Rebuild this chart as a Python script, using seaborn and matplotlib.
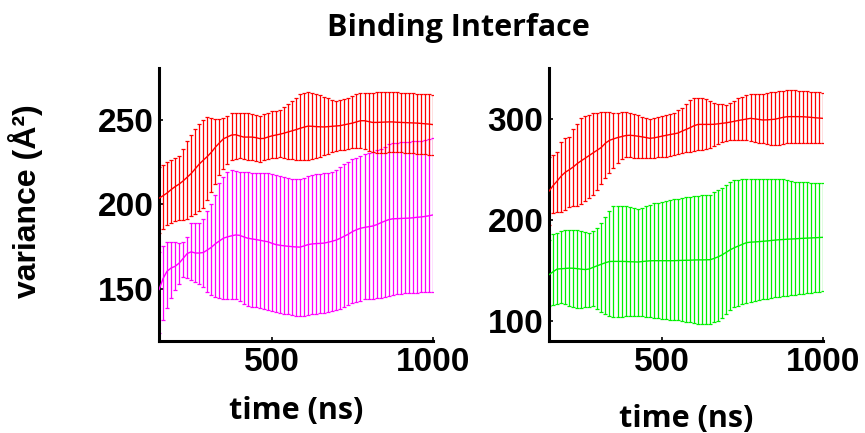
import numpy as np
import pandas as pd
import matplotlib
matplotlib.use("Agg")
import matplotlib.pyplot as plt
import seaborn as sns

# simulation time grid (ns), one sample every 12.5 ns
time_ns = np.arange(150.0, 1000.01, 12.5)

# ---- left panel: red vs magenta (mean, lower, upper) ----
left_red_mean = [203.7, 205.2, 206.8, 208.8, 210.6, 212.1, 214.0, 216.2, 218.4, 221.2,
                 224.0, 226.3, 228.5, 231.0, 234.0, 236.6, 239.0, 240.1, 241.2, 241.4,
                 240.7, 240.0, 240.0, 240.0, 239.7, 239.1, 239.2, 240.0, 240.7, 241.2,
                 241.7, 242.3, 243.0, 243.7, 244.4, 245.2, 245.9, 246.5, 246.4, 246.2,
                 246.1, 246.0, 246.2, 246.4, 246.6, 246.8, 247.3, 247.8, 248.3, 249.0,
                 249.7, 249.7, 249.2, 248.7, 248.7, 248.8, 248.9, 249.0, 249.0, 248.8,
                 248.7, 248.6, 248.5, 248.4, 248.3, 248.1, 247.9, 247.7, 247.4]
left_red_upper = [222.0, 223.7, 225.4, 226.6, 227.8, 229.0, 232.8, 237.6, 241.5, 244.8,
                  247.6, 250.0, 252.0, 251.3, 250.8, 250.5, 251.1, 252.8, 254.0, 254.2,
                  254.3, 254.2, 254.1, 253.7, 253.1, 252.4, 253.4, 254.4, 255.2, 255.7,
                  256.3, 257.8, 259.4, 261.2, 263.4, 265.7, 266.2, 266.6, 266.4, 265.6,
                  264.8, 264.0, 263.1, 262.2, 261.3, 261.8, 262.6, 263.4, 264.3, 265.4,
                  266.4, 266.4, 266.4, 266.4, 266.5, 266.6, 266.7, 266.8, 266.7, 266.6,
                  266.4, 266.3, 266.1, 265.9, 265.7, 265.5, 265.4, 265.3, 265.2]
left_red_lower = [183.0, 185.5, 188.0, 189.1, 190.2, 190.8, 191.0, 191.2, 193.4, 194.5,
                  196.1, 198.0, 202.5, 207.3, 212.0, 217.5, 220.9, 224.0, 226.5, 227.0,
                  227.3, 226.9, 226.4, 226.1, 225.7, 225.3, 226.1, 226.9, 227.4, 227.6,
                  227.9, 227.5, 227.1, 226.8, 226.6, 226.4, 226.3, 226.6, 226.9, 227.3,
                  228.2, 229.1, 230.0, 230.9, 231.6, 232.3, 232.6, 233.0, 233.4, 233.8,
                  233.4, 232.8, 232.0, 231.4, 230.8, 230.4, 230.6, 230.9, 231.1, 231.3,
                  231.1, 230.8, 230.6, 230.3, 230.1, 229.9, 229.7, 229.5, 229.3]

left_mag_mean = [149.4, 156.0, 160.4, 162.3, 163.3, 165.2, 168.0, 170.9, 171.9, 171.2,
                 171.2, 171.5, 173.0, 174.6, 176.7, 178.4, 180.0, 180.8, 181.4, 181.9,
                 181.7, 180.8, 180.0, 179.6, 179.2, 178.8, 178.3, 177.9, 177.0, 176.2,
                 175.8, 175.5, 175.2, 175.0, 174.8, 174.7, 175.4, 176.2, 176.6, 176.8,
                 176.9, 177.1, 177.6, 178.2, 178.9, 180.0, 181.2, 182.4, 183.9, 185.0,
                 185.9, 186.4, 186.8, 187.2, 188.0, 189.1, 190.1, 191.0, 191.5, 191.6,
                 191.7, 191.8, 191.9, 192.1, 192.4, 192.6, 192.9, 193.3, 193.8]
left_mag_upper = [172.0, 175.5, 178.0, 178.0, 178.0, 177.3, 177.5, 180.5, 188.9, 189.0,
                  189.2, 191.5, 196.3, 200.5, 205.5, 212.5, 216.5, 219.5, 220.4, 220.0,
                  219.4, 219.2, 219.0, 218.8, 218.8, 218.8, 218.7, 218.4, 218.0, 217.6,
                  217.1, 216.3, 215.5, 214.9, 214.9, 214.9, 215.8, 216.9, 217.6, 217.9,
                  218.2, 218.4, 218.9, 219.5, 220.6, 222.1, 223.8, 225.5, 226.7, 227.7,
                  228.7, 229.8, 230.6, 231.4, 232.2, 233.2, 234.3, 235.6, 236.4, 236.6,
                  236.8, 237.0, 237.2, 237.4, 237.7, 237.9, 238.2, 238.9, 239.7]
left_mag_lower = [123.8, 131.3, 138.5, 144.5, 149.5, 153.0, 156.8, 156.5, 155.0, 153.8,
                  152.8, 150.8, 148.3, 146.0, 145.2, 144.5, 143.9, 143.9, 143.9, 143.9,
                  142.8, 141.2, 139.8, 139.4, 138.9, 138.4, 137.9, 137.3, 136.7, 136.2,
                  135.8, 135.3, 134.9, 134.4, 134.0, 133.6, 133.8, 134.3, 134.8, 135.3,
                  135.6, 135.9, 136.3, 136.6, 137.3, 138.2, 139.2, 140.3, 141.3, 142.0,
                  142.9, 143.7, 144.0, 144.2, 144.3, 144.6, 145.2, 145.8, 146.4, 146.7,
                  147.0, 147.2, 147.5, 147.6, 147.7, 147.8, 147.9, 148.0, 148.1]

# ---- right panel: red vs green (mean, lower, upper) ----
right_red_mean = [228.7, 234.2, 238.7, 243.6, 247.4, 249.9, 252.7, 256.1, 258.9, 261.5,
                  264.2, 266.9, 269.5, 272.2, 276.4, 279.2, 280.6, 281.9, 282.9, 283.9,
                  284.2, 283.9, 283.3, 282.7, 282.0, 281.2, 281.6, 282.4, 283.3, 284.1,
                  284.9, 285.6, 286.4, 288.3, 290.0, 291.7, 293.7, 295.0, 295.0, 295.0,
                  295.0, 295.1, 295.6, 296.1, 296.6, 297.3, 298.1, 298.9, 299.6, 300.3,
                  301.0, 300.5, 300.0, 299.4, 299.5, 299.8, 300.1, 301.0, 301.9, 302.6,
                  302.7, 302.7, 302.7, 302.6, 302.3, 302.0, 301.6, 301.3, 301.0]
right_red_upper = [262.5, 264.7, 267.5, 278.0, 281.0, 282.5, 290.0, 295.5, 300.9, 303.2,
                   304.7, 305.9, 306.7, 307.3, 307.2, 307.0, 306.6, 306.8, 307.0, 307.2,
                   306.6, 305.4, 304.0, 302.8, 301.6, 300.7, 301.6, 302.5, 303.4, 304.5,
                   305.6, 306.8, 309.0, 311.2, 314.9, 319.4, 321.6, 321.6, 321.6, 320.1,
                   318.5, 316.5, 315.7, 314.9, 314.0, 316.0, 318.5, 321.0, 322.5, 323.8,
                   325.0, 325.5, 325.5, 325.6, 326.3, 327.0, 327.3, 327.9, 328.5, 329.1,
                   329.0, 328.7, 328.4, 328.2, 327.9, 327.6, 327.2, 326.9, 326.5]
right_red_lower = [195.5, 207.0, 207.6, 208.4, 210.5, 212.8, 213.8, 213.8, 215.5, 218.5,
                   221.5, 224.5, 229.5, 235.5, 241.5, 247.0, 251.9, 256.2, 260.5, 262.4,
                   262.2, 262.0, 261.9, 261.9, 261.9, 261.9, 261.9, 262.2, 262.5, 262.8,
                   263.5, 264.7, 265.9, 266.8, 267.3, 267.9, 268.4, 269.1, 270.0, 271.0,
                   271.9, 273.9, 276.0, 277.9, 278.6, 279.1, 279.6, 280.0, 279.8, 279.3,
                   278.6, 277.9, 277.0, 276.2, 275.3, 274.5, 274.2, 275.0, 275.8, 276.6,
                   276.8, 276.8, 276.8, 276.8, 276.8, 276.8, 276.7, 276.4, 276.1]

right_green_mean = [145.8, 148.7, 151.4, 151.7, 152.0, 152.3, 152.2, 151.8, 151.3, 150.9,
                    151.5, 153.2, 154.7, 156.2, 157.7, 158.9, 159.0, 159.0, 159.0, 158.9,
                    158.7, 158.6, 158.4, 158.8, 159.2, 159.6, 159.7, 159.7, 159.7, 159.7,
                    159.7, 159.7, 159.9, 160.0, 160.1, 160.2, 160.4, 160.5, 160.5, 160.6,
                    160.7, 162.0, 163.6, 165.6, 168.1, 170.6, 172.6, 174.3, 176.0, 177.6,
                    178.1, 178.3, 178.6, 178.9, 179.3, 179.7, 180.1, 180.5, 180.7, 181.0,
                    181.2, 181.4, 181.7, 181.9, 182.1, 182.3, 182.5, 182.7, 182.9]
right_green_upper = [180.6, 186.0, 187.5, 189.0, 189.7, 190.2, 190.5, 189.9, 189.0, 188.2,
                     187.4, 189.0, 192.5, 197.0, 203.5, 209.5, 213.8, 213.8, 213.8, 213.8,
                     213.0, 212.2, 211.3, 212.0, 213.6, 215.2, 216.6, 217.4, 218.2, 219.0,
                     219.8, 220.6, 221.3, 221.9, 222.6, 223.2, 223.7, 224.1, 224.5, 224.9,
                     225.4, 227.4, 229.4, 232.1, 235.0, 237.8, 239.6, 240.0, 240.4, 240.9,
                     241.0, 241.0, 241.0, 241.0, 241.0, 241.0, 241.0, 241.0, 240.5, 239.7,
                     238.9, 238.1, 237.6, 237.5, 237.4, 237.3, 237.2, 237.1, 237.0]
right_green_lower = [114.3, 115.5, 116.7, 117.6, 116.4, 115.2, 114.0, 112.8, 112.9, 113.5,
                     114.0, 114.3, 111.5, 108.7, 106.5, 105.2, 104.3, 103.6, 103.9, 104.4,
                     104.8, 105.2, 105.2, 104.8, 104.2, 103.5, 102.9, 102.7, 102.2, 101.7,
                     101.3, 100.9, 100.5, 100.0, 99.2, 98.4, 97.6, 96.8, 96.7, 96.8,
                     97.0, 98.6, 100.2, 103.0, 107.0, 110.5, 113.6, 115.2, 116.8, 118.2,
                     119.1, 119.8, 120.5, 121.3, 122.0, 122.6, 123.3, 123.9, 124.4, 125.0,
                     125.5, 126.1, 126.5, 126.8, 127.5, 128.0, 128.4, 128.8, 129.2]

left_yticks = [150, 200, 250]
right_yticks = [100, 200, 300]
xticks = [500, 1000]

sns.set_theme(style="white")
plt.rcParams["font.family"] = ["Liberation Sans", "DejaVu Sans"]
plt.rcParams["text.color"] = "black"
plt.rcParams["axes.labelcolor"] = "black"
plt.rcParams["xtick.color"] = "black"
plt.rcParams["ytick.color"] = "black"

fig = plt.figure(figsize=(8.65, 4.33), dpi=100)
ax_l = fig.add_axes([0.1838, 0.2125, 0.3168, 0.6305])
ax_r = fig.add_axes([0.6347, 0.2125, 0.3168, 0.6305])


def draw_band(ax, mean, lower, upper, color):
    mean = np.asarray(mean)
    lo = mean - np.asarray(lower)
    hi = np.asarray(upper) - mean
    ax.errorbar(time_ns, mean, yerr=[lo, hi], fmt="none", ecolor=color,
                elinewidth=0.9, capsize=1.6, capthick=0.9, zorder=2)
    df = pd.DataFrame({"t": time_ns, "v": mean})
    sns.lineplot(data=df, x="t", y="v", ax=ax, color=color, lw=1.0, zorder=3)


draw_band(ax_l, left_mag_mean, left_mag_lower, left_mag_upper, "#ff00ff")
draw_band(ax_l, left_red_mean, left_red_lower, left_red_upper, "#ff0000")
draw_band(ax_r, right_green_mean, right_green_lower, right_green_upper, "#00f000")
draw_band(ax_r, right_red_mean, right_red_lower, right_red_upper, "#ff0000")

ax_l.set_ylim(119, 281)
ax_r.set_ylim(80, 351)
ax_l.set_yticks(left_yticks)
ax_r.set_yticks(right_yticks)

label_font = dict(family=["Open Sans", "DejaVu Sans"], fontweight="bold", fontsize=22,
                  color="black")
for ax, pad in ((ax_l, 13), (ax_r, 19)):
    ax.set_xlim(150, 1000)
    ax.set_xticks(xticks)
    for side in ("top", "right"):
        ax.spines[side].set_visible(False)
    for side in ("left", "bottom"):
        ax.spines[side].set_linewidth(2.2)
        ax.spines[side].set_color("black")
    ax.tick_params(direction="in", length=3, width=1.2, labelsize=24, pad=4,
                   colors="black", left=True, bottom=True)
    for lab in ax.get_xticklabels() + ax.get_yticklabels():
        lab.set_fontweight("bold")
    ax.set_ylabel("")
    ax.set_xlabel("time (ns)", labelpad=pad, **label_font)

fig.text(0.029, 0.535, "variance (Å²)", rotation=90, ha="center", va="center",
         fontsize=23, fontweight="bold", color="black")
fig.text(0.53, 0.935, "Binding Interface", ha="center", va="center", **label_font)

fig.savefig("out.png", dpi=100, facecolor="white")
